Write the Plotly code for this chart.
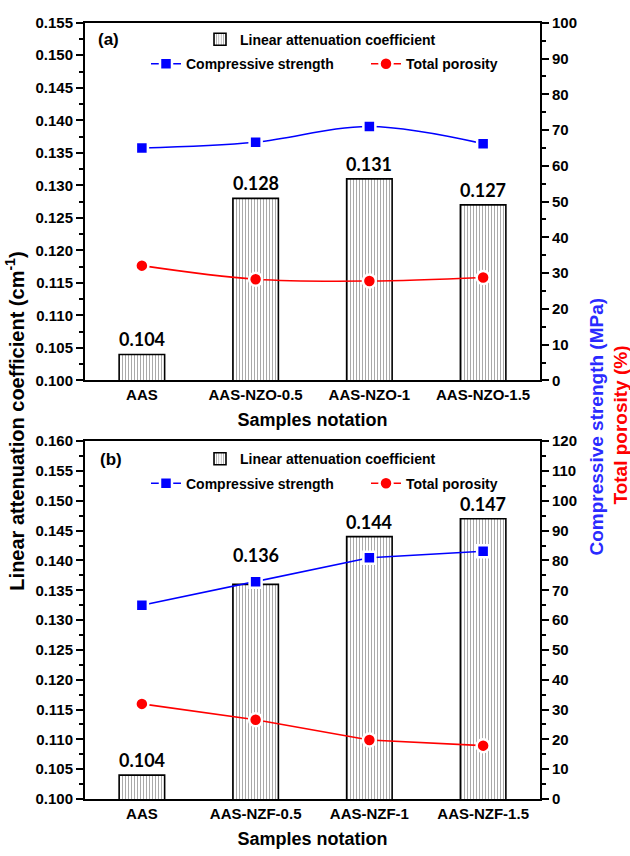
import plotly.graph_objects as go

W, H = 630, 856

# ---------------- data ----------------
cats_a = ["AAS", "AAS-NZO-0.5", "AAS-NZO-1", "AAS-NZO-1.5"]
lac_a = [0.104, 0.128, 0.131, 0.127]
cs_a = [65.0, 66.6, 71.0, 66.2]
por_a = [32.1, 28.3, 27.8, 28.8]

cats_b = ["AAS", "AAS-NZF-0.5", "AAS-NZF-1", "AAS-NZF-1.5"]
lac_b = [0.104, 0.136, 0.144, 0.147]
cs_b = [65.0, 72.9, 80.9, 83.1]
por_b = [31.9, 26.6, 19.8, 17.9]

# label lift (px) above bar tops, per panel (style only)
lift_a = [2, 2, 2, 2]
lift_b = [2, 16, 2, 2]

# ---------------- style ----------------
FONT = "Liberation Sans"
BLUE = "#0000ff"
RED = "#ff0000"

def px_x(p):
    return p / W

def px_y(p):
    return 1 - p / H

xdom = [px_x(85), px_x(540)]
ydom_a = [px_y(379), px_y(14)]
ydom_b = [px_y(806), px_y(441)]

fig = go.Figure()
value_labels = []

def add_panel(cats, lac, cs, por, xa, ya, ya2, leg_bar, leg_line, spline, lift):
    fig.add_trace(go.Bar(
        x=cats, y=lac, xaxis=xa, yaxis=ya, width=0.4,
        name="Linear attenuation coefficient", legend=leg_bar,
        marker=dict(color="white", line=dict(color="black", width=1.6),
                    pattern=dict(shape="|", size=3, solidity=0.35,
                                 fgcolor="#555555", bgcolor="white")),
    ))
    for c, v, s in zip(cats, lac, lift):
        value_labels.append(dict(
            x=c, y=v, xref=xa, yref=ya, text=f"{v:.3f}", showarrow=False,
            xanchor="center", yanchor="bottom", yshift=s,
            font=dict(family="Lato", size=18, color="black", weight="bold")))
    shape = "spline" if spline else "linear"
    fig.add_trace(go.Scatter(
        x=cats, y=cs, xaxis=xa, yaxis=ya2, mode="lines+markers",
        name="Compressive strength", legend=leg_line,
        line=dict(color=BLUE, width=1.6, shape=shape),
        marker=dict(symbol="square", size=12, color=BLUE,
                    line=dict(color="white", width=2.5)),
        cliponaxis=False,
    ))
    fig.add_trace(go.Scatter(
        x=cats, y=por, xaxis=xa, yaxis=ya2, mode="lines+markers",
        name="Total porosity", legend=leg_line,
        line=dict(color=RED, width=1.6, shape=shape),
        marker=dict(symbol="circle", size=13, color=RED,
                    line=dict(color="white", width=2.5)),
        cliponaxis=False,
    ))

add_panel(cats_a, lac_a, cs_a, por_a, "x", "y", "y2", "legend", "legend2", True, lift_a)
add_panel(cats_b, lac_b, cs_b, por_b, "x2", "y3", "y4", "legend3", "legend4", False, lift_b)

tickfont = dict(family=FONT, size=15, color="black", weight="bold")
titlefont = dict(family=FONT, size=18, color="black", weight="bold")

def xaxis_def(anchor):
    return dict(domain=xdom, anchor=anchor, range=[-0.5, 3.5],
                showline=True, linecolor="black", linewidth=2, mirror=True,
                ticks="", tickfont=tickfont, showgrid=False, zeroline=False,
                title=dict(text="Samples notation", font=titlefont, standoff=11))

def yleft_def(dom, rng, anchor):
    return dict(domain=dom, anchor=anchor, range=rng, dtick=0.005, tick0=0.1,
                tickformat=".3f", showline=True, linecolor="black", linewidth=2,
                ticks="outside", ticklen=7, tickwidth=2, tickcolor="black",
                minor=dict(ticks="outside", ticklen=4, tickwidth=1.5,
                           tickcolor="black", dtick=0.0025),
                tickfont=tickfont, showgrid=False, zeroline=False)

def yright_def(dom, rng, anchor, over):
    return dict(domain=dom, anchor=anchor, overlaying=over, side="right",
                range=rng, dtick=10, tick0=0,
                showline=True, linecolor="black", linewidth=2,
                ticks="outside", ticklen=7, tickwidth=2, tickcolor="black",
                minor=dict(ticks="outside", ticklen=4, tickwidth=1.5,
                           tickcolor="black", dtick=5),
                tickfont=tickfont, showgrid=False, zeroline=False)

legfont = dict(family=FONT, size=14, color="black", weight="bold")

def leg_bar(ytop):
    return dict(x=px_x(200), y=px_y(ytop), xanchor="left", yanchor="top",
                orientation="h", font=legfont, bgcolor="rgba(0,0,0,0)")

def leg_line(ytop):
    return dict(x=px_x(146), y=px_y(ytop), xanchor="left", yanchor="top",
                orientation="h", font=legfont, bgcolor="rgba(0,0,0,0)",
                entrywidth=175, entrywidthmode="pixels")

fig.update_layout(
    width=W, height=H,
    margin=dict(l=0, r=0, t=0, b=0),
    paper_bgcolor="white", plot_bgcolor="white",
    showlegend=True,
    xaxis=xaxis_def("y"),
    yaxis=yleft_def(ydom_a, [0.1, 0.155], "x"),
    yaxis2=yright_def(ydom_a, [0, 100], "x", "y"),
    xaxis2=xaxis_def("y3"),
    yaxis3=yleft_def(ydom_b, [0.1, 0.16], "x2"),
    yaxis4=yright_def(ydom_b, [0, 120], "x2", "y3"),
    legend=leg_bar(15),
    legend2=leg_line(40),
    legend3=leg_bar(443),
    legend4=leg_line(468),
    annotations=value_labels + [
        dict(text="(a)", x=px_x(96), y=px_y(31), xref="paper", yref="paper",
             xanchor="left", yanchor="middle", showarrow=False,
             font=dict(family=FONT, size=17, color="black", weight="bold")),
        dict(text="(b)", x=px_x(98), y=px_y(460), xref="paper", yref="paper",
             xanchor="left", yanchor="middle", showarrow=False,
             font=dict(family=FONT, size=17, color="black", weight="bold")),
        dict(text="Linear attenuation coefficient (cm<sup>-1</sup>)",
             x=px_x(15), y=px_y(421), xref="paper", yref="paper",
             xanchor="center", yanchor="middle", textangle=-90, showarrow=False,
             font=dict(family=FONT, size=20, color="black", weight="bold")),
        dict(text="Compressive strength (MPa)",
             x=px_x(597), y=px_y(426), xref="paper", yref="paper",
             xanchor="center", yanchor="middle", textangle=-90, showarrow=False,
             font=dict(family=FONT, size=19, color="#2a2aff", weight="bold")),
        dict(text="Total porosity (%)",
             x=px_x(621), y=px_y(425), xref="paper", yref="paper",
             xanchor="center", yanchor="middle", textangle=-90, showarrow=False,
             font=dict(family=FONT, size=19, color=RED, weight="bold")),
    ],
)

fig.write_html("out.html")
